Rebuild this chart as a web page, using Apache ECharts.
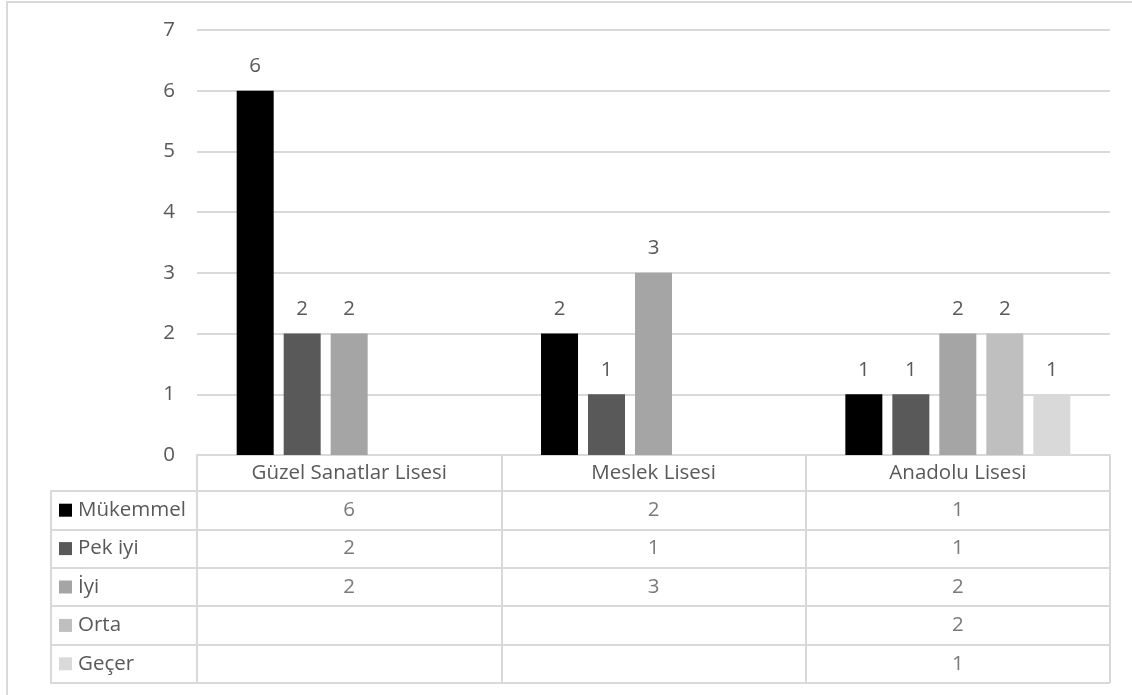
<!DOCTYPE html>
<html>
<head>
<meta charset="utf-8">
<script src="https://cdn.jsdelivr.net/npm/echarts@6/dist/echarts.min.js"></script>
<style>
html,body{margin:0;padding:0;background:#fff;}
#wrap{position:relative;width:1132px;height:695px;}
#frame{position:absolute;left:6px;top:1px;width:1140px;height:710px;border-left:2px solid #d9d9d9;border-top:2px solid #d9d9d9;box-sizing:border-box;pointer-events:none;}
#chart{position:absolute;left:0;top:0;width:1132px;height:695px;}
</style>
</head>
<body>
<div id="wrap"><div id="chart"></div><div id="frame"></div></div>
<script>
const categories = ['Güzel Sanatlar Lisesi', 'Meslek Lisesi', 'Anadolu Lisesi'];
const seriesNames = ['Mükemmel', 'Pek iyi', 'İyi', 'Orta', 'Geçer'];
const mukemmel = [6, 2, 1];
const pekIyi = [2, 1, 1];
const iyi = [2, 3, 2];
const orta = [null, null, 2];
const gecer = [null, null, 1];
const yTicks = [0, 1, 2, 3, 4, 5, 6, 7];

const seriesValues = [mukemmel, pekIyi, iyi, orta, gecer];
const colors = ['#000000', '#595959', '#a5a5a5', '#bfbfbf', '#d9d9d9'];
const FONT = 'Open Sans';
const TXT = '#595959';
const LINE = '#d9d9d9';
const FS = 20.5;

const chart = echarts.init(document.getElementById('chart'), null, {renderer: 'canvas'});

const rich = {};
colors.forEach((c, i) => { rich['sq' + i] = {width: 13, height: 13, backgroundColor: c}; });
rich.t = {fontSize: FS, color: TXT, fontFamily: FONT, padding: [0, 0, 0, 6]};

const barSeries = seriesNames.map((name, i) => ({
  name: name,
  type: 'bar',
  xAxisIndex: 0,
  yAxisIndex: 0,
  data: seriesValues[i],
  barWidth: 37,
  barGap: '27%',
  itemStyle: {color: colors[i]},
  label: {show: true, position: 'top', distance: 14, color: TXT, fontSize: FS, fontFamily: FONT}
}));

const tableData = [];
seriesValues.forEach((vals, r) => {
  vals.forEach((v, c) => { if (v !== null) tableData.push([c, r, v]); });
});

chart.setOption({
  animation: false,
  textStyle: {fontFamily: FONT},
  grid: [
    {left: 197, right: 22, top: 30, height: 425},
    {left: 197, right: 22, top: 491, height: 192}
  ],
  xAxis: [
    {
      type: 'category', gridIndex: 0, data: categories,
      axisLine: {show: true, lineStyle: {color: LINE, width: 2}},
      axisTick: {show: true, interval: 0, length: 36, lineStyle: {color: LINE, width: 2}},
      axisLabel: {color: TXT, fontSize: FS, fontFamily: FONT, margin: 8, interval: 0}
    },
    {
      type: 'category', gridIndex: 1, data: categories, position: 'top',
      axisLine: {show: true, lineStyle: {color: LINE, width: 2}},
      axisTick: {show: false}, axisLabel: {show: false},
      splitLine: {show: true, interval: 0, lineStyle: {color: LINE, width: 2}}
    }
  ],
  yAxis: [
    {
      type: 'value', gridIndex: 0, min: 0, max: 7, interval: 1,
      axisLine: {show: false}, axisTick: {show: false},
      axisLabel: {color: TXT, fontSize: FS, fontFamily: FONT, margin: 22,
        formatter: v => (yTicks.indexOf(v) >= 0 ? String(v) : '')},
      splitLine: {show: true, lineStyle: {color: LINE, width: 2}}
    },
    {
      type: 'category', gridIndex: 1, data: seriesNames, inverse: true, position: 'left',
      axisLine: {show: true, onZero: false, lineStyle: {color: LINE, width: 2}},
      axisTick: {show: true, interval: 0, length: 146, lineStyle: {color: LINE, width: 2}},
      axisLabel: {
        align: 'left', margin: 138, interval: 0,
        formatter: (val, idx) => '{sq' + idx + '|}{t|' + val + '}',
        rich: rich
      },
      splitLine: {show: true, interval: 0, lineStyle: {color: LINE, width: 2}}
    },
    {
      type: 'category', gridIndex: 1, data: seriesNames, inverse: true, position: 'left', offset: 146,
      axisLine: {show: true, onZero: false, lineStyle: {color: LINE, width: 2}},
      axisTick: {show: false}, axisLabel: {show: false}, splitLine: {show: false}
    }
  ],
  series: barSeries.concat([{
    type: 'scatter', xAxisIndex: 1, yAxisIndex: 1,
    data: tableData, symbolSize: 1,
    itemStyle: {color: 'rgba(0,0,0,0)'},
    label: {show: true, position: 'inside', color: TXT, fontSize: FS, fontFamily: FONT,
      formatter: p => String(p.value[2])},
    silent: true
  }])
});
</script>
</body>
</html>
